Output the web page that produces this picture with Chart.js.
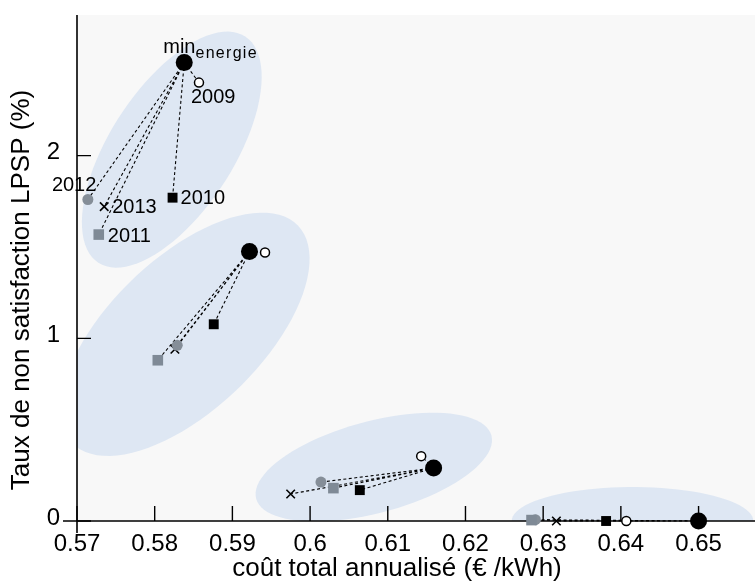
<!DOCTYPE html>
<html>
<head>
<meta charset="utf-8">
<script src="https://cdn.jsdelivr.net/npm/chart.js@4.4.0/dist/chart.umd.min.js"></script>
<style>
  html, body { margin: 0; padding: 0; background: #fff; }
</style>
</head>
<body>
<canvas id="lpspChart" width="755" height="583"></canvas>
<script>
// one value per scenario cluster (top-left -> bottom-right)
var minEnergieX = [0.5838, 0.5922, 0.6159, 0.6500];
var minEnergieY = [2.51, 1.475, 0.29, 0.0];
var y2009X = [0.5857, 0.5942, 0.6143, 0.6407];
var y2009Y = [2.40, 1.47, 0.355, 0.0];
var y2010X = [0.5823, 0.5876, 0.6064, 0.6381];
var y2010Y = [1.77, 1.077, 0.169, 0.0];
var y2011X = [0.5728, 0.5804, 0.6030, 0.6285];
var y2011Y = [1.568, 0.88, 0.18, 0.005];
var y2012X = [0.5714, 0.5829, 0.6014, 0.6290];
var y2012Y = [1.76, 0.962, 0.213, 0.007];
var y2013X = [0.5735, 0.5826, 0.5975, 0.6317];
var y2013Y = [1.721, 0.94, 0.148, 0.0];

var yearNames = ['2009', '2010', '2011', '2012', '2013'];

var xTickValues = [0.57, 0.58, 0.59, 0.6, 0.61, 0.62, 0.63, 0.64, 0.65];
var yTickValues = [0, 1, 2];

var xTitle = 'coût total annualisé (€ /kWh)';
var yTitle = 'Taux de non satisfaction LPSP (%)';

// shaded envelopes: centre and two half-axis vectors, in data units
var envCx = [0.5822, 0.5839, 0.6082, 0.6415];
var envCy = [2.033, 1.022, 0.295, 0.0];
var envMajor = [[0.00945, 0.619], [0.01454, 0.595], [0.01514, 0.1727], [0.01555, 0.0]];
var envMinor = [[0.00668, -0.185], [0.00677, -0.2995], [0.00153, -0.2428], [0.0, 0.186]];

var FONT = '"Liberation Sans", Arial, sans-serif';

function pts(xs, ys) {
  return xs.map(function(x, i) { return {x: x, y: ys[i]}; });
}

var yearX = [y2009X, y2010X, y2011X, y2012X, y2013X];
var yearY = [y2009Y, y2010Y, y2011Y, y2012Y, y2013Y];

// label offsets for the first cluster (px from the point, left/middle)
var labelOffsets = [[-8, 15], [8, 1], [9, 2], [-36, -14], [8, 1]];

var decorPlugin = {
  id: 'decor',
  beforeDraw: function(chart) {
    var a = chart.chartArea, ctx = chart.ctx;
    ctx.save();
    ctx.fillStyle = '#ffffff';
    ctx.fillRect(0, 0, chart.width, chart.height);
    ctx.fillStyle = '#f8f8f8';
    ctx.fillRect(a.left, a.top, chart.width - a.left, a.bottom - a.top);
    ctx.restore();
  },
  beforeDatasetsDraw: function(chart) {
    var ctx = chart.ctx, a = chart.chartArea;
    var sx = chart.scales.x, sy = chart.scales.y;
    ctx.save();
    ctx.beginPath();
    ctx.rect(a.left, a.top, chart.width - a.left, a.bottom - a.top);
    ctx.clip();
    ctx.fillStyle = '#dee7f3';
    for (var i = 0; i < envCx.length; i++) {
      ctx.beginPath();
      for (var k = 0; k <= 90; k++) {
        var t = k / 90 * Math.PI * 2;
        var vx = envCx[i] + envMajor[i][0] * Math.cos(t) + envMinor[i][0] * Math.sin(t);
        var vy = envCy[i] + envMajor[i][1] * Math.cos(t) + envMinor[i][1] * Math.sin(t);
        var px = sx.getPixelForValue(vx), py = sy.getPixelForValue(vy);
        if (k === 0) ctx.moveTo(px, py); else ctx.lineTo(px, py);
      }
      ctx.closePath();
      ctx.fill();
    }
    ctx.restore();

    // axes, pgfplots-like with inward ticks
    ctx.save();
    ctx.strokeStyle = '#000';
    ctx.lineWidth = 1.6;
    ctx.beginPath();
    ctx.moveTo(a.left - 14, a.bottom);
    ctx.lineTo(chart.width, a.bottom);
    ctx.moveTo(a.left, a.top);
    ctx.lineTo(a.left, a.bottom + 12);
    ctx.stroke();
    ctx.lineWidth = 1.4;
    ctx.beginPath();
    sx.ticks.forEach(function(tk) {
      var p = sx.getPixelForValue(tk.value);
      ctx.moveTo(p, a.bottom);
      ctx.lineTo(p, a.bottom - 15);
    });
    sy.ticks.forEach(function(tk) {
      var p = sy.getPixelForValue(tk.value);
      ctx.moveTo(a.left, p);
      ctx.lineTo(a.left + 14, p);
    });
    ctx.stroke();

    // dashed links from min_energie to each year
    ctx.lineWidth = 1.1;
    ctx.setLineDash([3, 2.5]);
    ctx.beginPath();
    for (var g = 0; g < minEnergieX.length; g++) {
      var x0 = sx.getPixelForValue(minEnergieX[g]), y0 = sy.getPixelForValue(minEnergieY[g]);
      for (var s = 0; s < yearX.length; s++) {
        ctx.moveTo(x0, y0);
        ctx.lineTo(sx.getPixelForValue(yearX[s][g]), sy.getPixelForValue(yearY[s][g]));
      }
    }
    ctx.stroke();
    ctx.restore();
  },
  afterDatasetsDraw: function(chart) {
    var ctx = chart.ctx, sx = chart.scales.x, sy = chart.scales.y;
    ctx.save();
    ctx.fillStyle = '#000';
    ctx.textBaseline = 'middle';
    ctx.textAlign = 'left';
    ctx.font = '20px ' + FONT;
    for (var s = 0; s < yearNames.length; s++) {
      var px = sx.getPixelForValue(yearX[s][0]), py = sy.getPixelForValue(yearY[s][0]);
      ctx.fillText(yearNames[s], px + labelOffsets[s][0], py + labelOffsets[s][1]);
    }
    var mx = sx.getPixelForValue(minEnergieX[0]), my = sy.getPixelForValue(minEnergieY[0]);
    ctx.textBaseline = 'alphabetic';
    ctx.fillText('min', mx - 21, my - 9);
    var w = ctx.measureText('min').width;
    ctx.font = '16px ' + FONT;
    ctx.letterSpacing = '1.3px';
    ctx.fillText('energie', mx - 21 + w, my - 4);
    ctx.letterSpacing = '0px';

    // axis titles
    ctx.font = '26px ' + FONT;
    ctx.textAlign = 'center';
    ctx.textBaseline = 'middle';
    ctx.fillText(xTitle, 397, 569);
    ctx.translate(22, 290);
    ctx.rotate(-Math.PI / 2);
    ctx.fillText(yTitle, 0, 0);
    ctx.restore();
  }
};

new Chart('lpspChart', {
  type: 'scatter',
  data: {
    datasets: [{
      label: 'min_energie',
      data: pts(minEnergieX, minEnergieY),
      pointStyle: 'circle',
      pointRadius: 8.5,
      backgroundColor: '#000',
      borderColor: '#000',
      borderWidth: 0
    }, {
      label: '2009',
      data: pts(y2009X, y2009Y),
      pointStyle: 'circle',
      pointRadius: 4.5,
      backgroundColor: '#fff',
      borderColor: '#000',
      borderWidth: 1.5
    }, {
      label: '2010',
      data: pts(y2010X, y2010Y),
      pointStyle: 'rect',
      pointRadius: 7,
      backgroundColor: '#000',
      borderColor: '#000',
      borderWidth: 0
    }, {
      label: '2011',
      data: pts(y2011X, y2011Y),
      pointStyle: 'rect',
      pointRadius: 7.5,
      backgroundColor: '#7f8a96',
      borderColor: '#7f8a96',
      borderWidth: 0
    }, {
      label: '2012',
      data: pts(y2012X, y2012Y),
      pointStyle: 'circle',
      pointRadius: 5.5,
      backgroundColor: '#858e98',
      borderColor: '#858e98',
      borderWidth: 0
    }, {
      label: '2013',
      data: pts(y2013X, y2013Y),
      pointStyle: 'crossRot',
      pointRadius: 6,
      backgroundColor: '#000',
      borderColor: '#000',
      borderWidth: 1.6
    }]
  },
  options: {
    responsive: false,
    animation: false,
    clip: false,
    layout: { padding: { top: 15, right: 0, left: 0, bottom: 0 } },
    plugins: {
      legend: { display: false },
      tooltip: { enabled: false }
    },
    scales: {
      x: {
        type: 'linear',
        min: 0.57,
        max: 0.65617,
        grid: { display: false },
        border: { display: false },
        afterBuildTicks: function(scale) {
          scale.ticks = xTickValues.map(function(v) { return {value: v}; });
        },
        afterFit: function(scale) {
          scale.height = 62;
          scale.paddingLeft = 0;
          scale.paddingRight = 0;
        },
        ticks: {
          autoSkip: false,
          maxRotation: 0,
          padding: 1,
          color: '#000',
          font: { family: FONT, size: 24 },
          callback: function(v) { return String(Number(v.toFixed(2))); }
        }
      },
      y: {
        type: 'linear',
        min: 0,
        max: 2.77,
        grid: { display: false },
        border: { display: false },
        afterBuildTicks: function(scale) {
          scale.ticks = yTickValues.map(function(v) { return {value: v}; });
        },
        afterFit: function(scale) {
          scale.width = 77;
          scale.paddingTop = 0;
          scale.paddingBottom = 0;
        },
        ticks: {
          padding: 9,
          labelOffset: -3,
          color: '#000',
          font: { family: FONT, size: 24 }
        }
      }
    }
  },
  plugins: [decorPlugin]
});
</script>
</body>
</html>
